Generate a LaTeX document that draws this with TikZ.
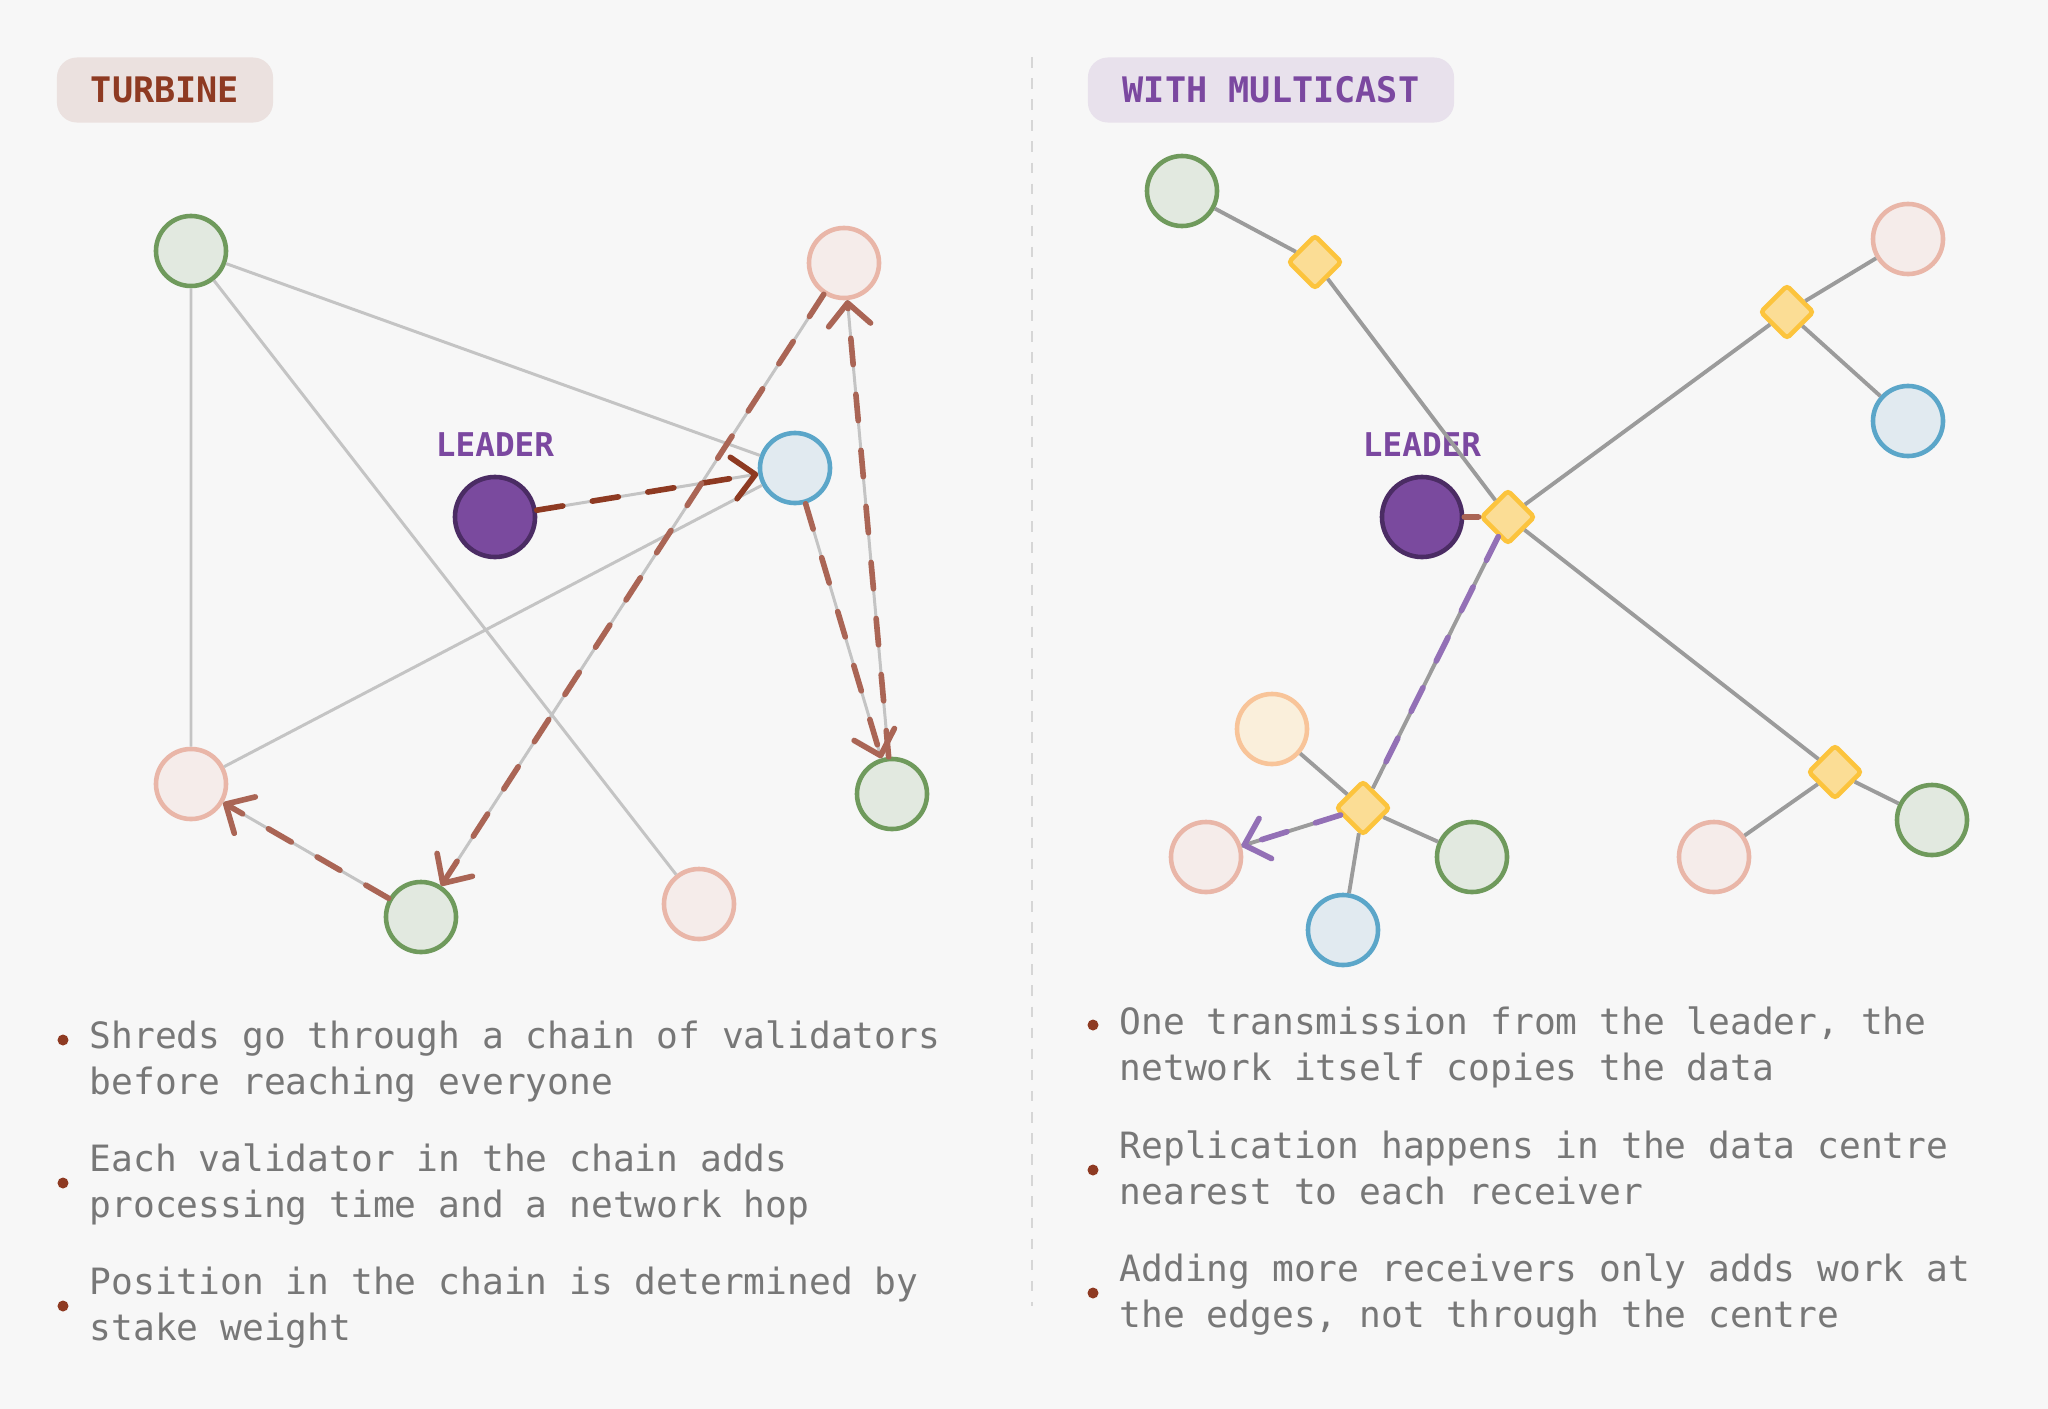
\documentclass[tikz,border=0pt]{standalone}
\usepackage{fontspec}
\setmonofont{DejaVu Sans Mono}
\usetikzlibrary{arrows.meta}
\definecolor{paper}{HTML}{F7F7F7}
\definecolor{rust}{HTML}{8E3A22}
\definecolor{rustlt}{HTML}{AA6555}
\definecolor{plum}{HTML}{7B48A0}
\definecolor{plumlt}{HTML}{9370B6}
\definecolor{txtgray}{HTML}{777777}
\definecolor{wirelt}{HTML}{C4C4C4}
\definecolor{wiredk}{HTML}{9B9B9B}
\definecolor{grnline}{HTML}{6F9A5C}
\definecolor{grnfill}{HTML}{E2E9E0}
\definecolor{pnkline}{HTML}{E9B6A8}
\definecolor{pnkfill}{HTML}{F5ECEA}
\definecolor{bluline}{HTML}{5BA6C9}
\definecolor{blufill}{HTML}{E1EAF0}
\definecolor{ambline}{HTML}{F8C499}
\definecolor{ambfill}{HTML}{FAEFDB}
\definecolor{ldrfill}{HTML}{7A4A9E}
\definecolor{ldrline}{HTML}{4B2C64}
\definecolor{swline}{HTML}{FCC43D}
\definecolor{swfill}{HTML}{FBDD95}
\definecolor{tagrust}{HTML}{EBE1DF}
\definecolor{tagplum}{HTML}{E8E1EC}
\begin{document}
\begin{tikzpicture}[x=0.01cm,y=-0.01cm,>={Straight Barb[length=2.2mm,width=4.2mm,round]}]
        \tikzstyle{every node}=[inner sep=0pt]
        \tikzstyle{peer}=[circle,minimum size=7mm,line width=1.3pt]
        \tikzstyle{greenpeer}=[peer,draw=grnline,fill=grnfill]
        \tikzstyle{pinkpeer}=[peer,draw=pnkline,fill=pnkfill]
        \tikzstyle{bluepeer}=[peer,draw=bluline,fill=blufill]
        \tikzstyle{amberpeer}=[peer,draw=ambline,fill=ambfill]
        \tikzstyle{leader}=[circle,minimum size=8mm,line width=1.3pt,draw=ldrline,fill=ldrfill]
        \tikzstyle{relay}=[rectangle,rotate=45,minimum size=3.7mm,rounded corners=1pt,line width=1.3pt,draw=swline,fill=swfill]
        \tikzstyle{badge}=[rounded corners=2mm,minimum height=6.5mm,font=\ttfamily\bfseries\fontsize{10}{12}\selectfont]
        \tikzstyle{ldrlabel}=[text=plum,font=\ttfamily\bfseries\fontsize{9.3}{10}\selectfont]
        \tikzstyle{note}=[anchor=west,align=left,text=txtgray,font=\ttfamily\fontsize{10.3}{13}\selectfont]
        \tikzstyle{dot}=[circle,fill=rust,minimum size=1.1mm]
        \tikzstyle{wire}=[draw=wirelt,line width=0.85pt]
        \tikzstyle{trunk}=[draw=wiredk,line width=1.1pt]
        \tikzstyle{hop}=[->,draw=rustlt,line width=1.6pt,line cap=round,dash pattern=on 7.5pt off 8.5pt]
        \tikzstyle{firsthop}=[hop,draw=rust]
        \tikzstyle{cast}=[hop,draw=plumlt]
        \fill[paper] (0,0) rectangle (2048,1409);
        \node[badge,fill=tagrust,text=rust,minimum width=21.6mm] (turbine) at (165,90) {TURBINE};
        \node[badge,fill=tagplum,text=plum,minimum width=36.6mm] (multicast) at (1271,90) {WITH MULTICAST};
        \draw[wirelt!70,line width=0.8pt,dash pattern=on 3pt off 3pt] (1032,57) -- (1032,1306);
        % turbine side
        \node[greenpeer] (g1) at (191,251) {};
        \node[pinkpeer] (p1) at (844,263) {};
        \node[ldrlabel] (ldrtag) at (495,445) {LEADER};
        \node[leader] (ldr) at (495,517) {};
        \node[bluepeer] (b1) at (795,468) {};
        \node[pinkpeer] (p2) at (191,784) {};
        \node[greenpeer] (g2) at (421,917) {};
        \node[pinkpeer] (p3) at (699,904) {};
        \node[greenpeer] (g3) at (892,794) {};
        \draw[wire] (g1) -- (p2) (g1) -- (b1) (g1) -- (p3) (p2) -- (b1)
                    (ldr) -- (b1) (b1) -- (g3) (g3) -- (p1) (p1) -- (g2) (g2) -- (p2);
        \path (ldr) edge[firsthop] (b1)
              (b1) edge[hop] (g3)
              (g3) edge[hop] (p1)
              (p1) edge[hop] (g2)
              (g2) edge[hop] (p2);
        % multicast side
        \node[greenpeer] (g4) at (1182,191) {};
        \node[relay] (d1) at (1315,262) {};
        \node[ldrlabel] (ldrtag2) at (1422,445) {LEADER};
        \node[leader] (ldr2) at (1422,517) {};
        \node[relay] (d2) at (1508,517) {};
        \node[relay] (d3) at (1787,312) {};
        \node[pinkpeer] (p4) at (1908,239) {};
        \node[bluepeer] (b2) at (1908,421) {};
        \node[relay] (d4) at (1363,808) {};
        \node[amberpeer] (a1) at (1272,729) {};
        \node[pinkpeer] (p5) at (1206,857) {};
        \node[bluepeer] (b3) at (1343,930) {};
        \node[greenpeer] (g5) at (1472,857) {};
        \node[relay] (d5) at (1835,772) {};
        \node[pinkpeer] (p6) at (1714,857) {};
        \node[greenpeer] (g6) at (1932,820) {};
        \draw[trunk] (g4) -- (d1) (d1) -- (d2) (ldr2) -- (d2)
                     (d2) -- (d3) (d3) -- (p4) (d3) -- (b2)
                     (d2) -- (d5) (d5) -- (p6) (d5) -- (g6)
                     (d2) -- (d4) (d4) -- (a1) (d4) -- (p5) (d4) -- (b3) (d4) -- (g5);
        \path (ldr2) edge[hop,-] (d2)
              (d2) edge[cast,-] (d4)
              (d4) edge[cast] (p5);
        % notes
        \node[dot] (dot1) at (63,1040) {};
        \node[note] (n1) at (89,1062) {\strut Shreds go through a chain of validators\\before reaching everyone\strut};
        \node[dot] (dot2) at (63,1183) {};
        \node[note] (n2) at (89,1185) {\strut Each validator in the chain adds\\processing time and a network hop\strut};
        \node[dot] (dot3) at (63,1306) {};
        \node[note] (n3) at (89,1308) {\strut Position in the chain is determined by\\stake weight\strut};
        \node[dot] (dot4) at (1093,1025) {};
        \node[note] (n4) at (1119,1048) {\strut One transmission from the leader, the\\network itself copies the data\strut};
        \node[dot] (dot5) at (1093,1170) {};
        \node[note] (n5) at (1119,1172) {\strut Replication happens in the data centre\\nearest to each receiver\strut};
        \node[dot] (dot6) at (1093,1293) {};
        \node[note] (n6) at (1119,1295) {\strut Adding more receivers only adds work at\\the edges, not through the centre\strut};
\end{tikzpicture}
\end{document}
